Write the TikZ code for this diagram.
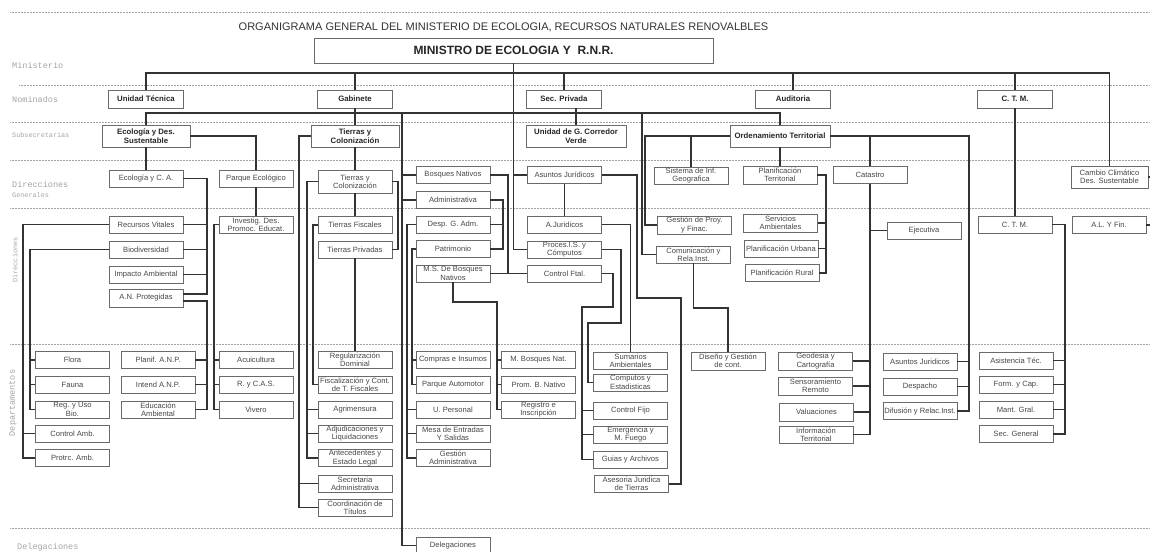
\documentclass[tikz,border=0pt]{standalone}
\usepackage{fontspec}
\setmainfont{Liberation Sans}
\newfontfamily\labelfont{Liberation Mono}
\usetikzlibrary{calc}

\definecolor{linecol}{HTML}{333333}
\definecolor{boxcol}{HTML}{6A6A6A}
\definecolor{txtcol}{HTML}{474747}
\definecolor{lblcol}{HTML}{A3A3A3}

\tikzset{
  unit/.style={draw=boxcol, line width=0.7pt, fill=white, minimum width=74pt, minimum height=17pt,
    inner sep=0.5pt, align=center, text=txtcol, font=\fontsize{7.6}{8.3}\selectfont},
  head/.style={unit, text=black!85, font=\fontsize{7.8}{9}\selectfont\bfseries},
  link/.style={draw=linecol, line width=1.1pt},
  sep/.style={draw=lblcol, densely dotted, line width=0.5pt},
  lvl/.style={text=lblcol, anchor=west, inner sep=0pt, font=\labelfont\fontsize{8.5}{9}\selectfont},
  lvlsmall/.style={lvl, font=\labelfont\fontsize{6.8}{7}\selectfont},
}

\begin{document}
\begin{tikzpicture}[x=1pt, y=-1pt]
  \useasboundingbox (0,0) rectangle (1150,551);

  % level separators
  \foreach \yy in {12,122,160,208,344,528}
    \draw[sep] (10,\yy) -- (1150,\yy);
  \draw[sep] (19,85) -- (1150,85);

  % level labels
  \node[lvl] (lmin) at (12,65) {Ministerio};
  \node[lvl] (lnom) at (12,99) {Nominados};
  \node[lvlsmall] (lsub) at (12,135) {Subsecretarias};
  \node[lvl] (ldg) at (12,184) {Direcciones};
  \node[lvlsmall] (ldg2) at (12,195) {Generales};
  \node[lvlsmall, anchor=center, rotate=90] (ldir) at (15,260) {Direcciones};
  \node[lvl, anchor=center, rotate=90] (ldep) at (13,403) {Departamentos};
  \node[lvl] (ldel) at (17,547) {Delegaciones};

  % title and minister
  \node[text=linecol, font=\fontsize{11}{13}\selectfont] (title) at (503.5,27)
    {ORGANIGRAMA GENERAL DEL MINISTERIO DE ECOLOGIA, RECURSOS NATURALES RENOVALBLES};
  \node[unit, minimum width=399pt, minimum height=25pt, text=black!85,
    font=\fontsize{12}{14}\selectfont\bfseries] (min) at (513.5,50.5) {MINISTRO DE ECOLOGIA Y\ \ R.N.R.};

  % nominados
  \node[head, minimum width=75pt, minimum height=18pt] (ut) at (146,99) {Unidad Técnica};
  \node[head, minimum width=75pt, minimum height=18pt] (gab) at (355,99) {Gabinete};
  \node[head, minimum width=75pt, minimum height=18pt] (secp) at (564,99) {Sec. Privada};
  \node[head, minimum width=75pt, minimum height=18pt] (aud) at (793,99) {Auditoria};
  \node[head, minimum width=75pt, minimum height=18pt] (ctmn) at (1015,99) {C. T. M.};

  % subsecretarias
  \node[head, minimum width=88pt, minimum height=22pt] (eds) at (146,136) {Ecología y Des.\\Sustentable};
  \node[head, minimum width=88pt, minimum height=22pt] (tyc) at (355,136) {Tierras y\\Colonización};
  \node[head, minimum width=100pt, minimum height=22pt] (ugcv) at (576,136) {Unidad de G. Corredor\\Verde};
  \node[head, minimum width=100pt, minimum height=22pt] (ot) at (780,136) {Ordenamiento Territorial};

  % direcciones generales
  \node[unit] (ecoca) at (146,178.5) {Ecología y C. A.};
  \node[unit] (parque) at (256,178.5) {Parque Ecológico};
  \node[unit, minimum height=23pt] (tycdg) at (355,181.5) {Tierras y\\Colonización};
  \node[unit] (bosq) at (453,175) {Bosques Nativos};
  \node[unit] (asj) at (564.5,175) {Asuntos Jurídicos};
  \node[unit] (sig) at (691,175.5) {Sistema de Inf.\\Geografica};
  \node[unit, minimum height=18pt] (pt) at (780,175) {Planificación\\Territorial};
  \node[unit] (cat) at (870,175) {Catastro};
  \node[unit, minimum width=77pt, minimum height=22pt] (ccds) at (1109.5,177) {Cambio Climático\\Des. Sustentable};

  % direcciones
  \node[unit] (admin) at (453,200) {Administrativa};
  \node[unit] (rv) at (146,224.5) {Recursos Vitales};
  \node[unit] (inv) at (256,224.5) {Investig. Des.\\Promoc. Educat.};
  \node[unit] (tf) at (355,225) {Tierras Fiscales};
  \node[unit] (desp) at (453,224.5) {Desp. G. Adm.};
  \node[unit] (ajur) at (564.5,224.5) {A.Juridicos};
  \node[unit, minimum height=18pt] (gpf) at (694.5,225) {Gestión de Proy.\\y Finac.};
  \node[unit, minimum height=18pt] (sa) at (780.5,223) {Servicios\\Ambientales};
  \node[unit] (ejec) at (924,230.5) {Ejecutiva};
  \node[unit] (ctm) at (1015,224.5) {C. T. M.};
  \node[unit] (alf) at (1109,225) {A.L. Y Fin.};
  \node[unit] (bio) at (146,249.5) {Biodiversidad};
  \node[unit] (tp) at (355,249.5) {Tierras Privadas};
  \node[unit] (patr) at (453,249) {Patrimonio};
  \node[unit] (proc) at (564.5,249.5) {Proces.I.S. y\\Cómputos};
  \node[unit] (com) at (693.5,254.5) {Comunicación y\\Rela.Inst.};
  \node[unit] (pu) at (781,248.5) {Planificación Urbana};
  \node[unit] (ia) at (146,274.5) {Impacto Ambiental};
  \node[unit] (msb) at (453,273.5) {M.S. De Bosques\\Nativos};
  \node[unit] (cftal) at (564.5,273.5) {Control Ftal.};
  \node[unit] (pr) at (782,273) {Planificación Rural};
  \node[unit, minimum height=18pt] (anp) at (146,298) {A.N. Protegidas};

  % departamentos
  \node[unit] (flora) at (72.5,360) {Flora};
  \node[unit] (fauna) at (72.5,384.5) {Fauna};
  \node[unit] (reg) at (72.5,409.5) {Reg. y Uso\\Bio.};
  \node[unit] (camb) at (72.5,433.5) {Control Amb.};
  \node[unit] (protrc) at (72.5,458) {Protrc. Amb.};
  \node[unit] (planif) at (158,360) {Planif. A.N.P.};
  \node[unit] (intend) at (158,384.5) {Intend A.N.P.};
  \node[unit] (educ) at (158,409.5) {Educación\\Ambiental};
  \node[unit] (acui) at (256,360) {Acuicultura};
  \node[unit] (rycas) at (256,384.5) {R. y C.A.S.};
  \node[unit] (vivero) at (256,409.5) {Vivero};
  \node[unit] (regd) at (355,360) {Regularización\\Dominial};
  \node[unit] (fisc) at (355,384.5) {Fiscalización y Cont.\\de T. Fiscales};
  \node[unit] (agri) at (355,409.5) {Agrimensura};
  \node[unit] (adju) at (355,433.5) {Adjudicaciones y\\Liquidaciones};
  \node[unit] (ante) at (355,458) {Antecedentes y\\Estado Legal};
  \node[unit] (secad) at (355,483.5) {Secretaria\\Administrativa};
  \node[unit] (coord) at (355,507.5) {Coordinación de\\Títulos};
  \node[unit] (compras) at (453,360) {Compras e Insumos};
  \node[unit] (pauto) at (453,384.5) {Parque Automotor};
  \node[unit] (upers) at (453,409.5) {U. Personal};
  \node[unit] (mesa) at (453,433.5) {Mesa de Entradas\\Y Salidas};
  \node[unit] (gadm) at (453,458) {Gestión\\Administrativa};
  \node[unit] (mbn) at (538.5,360) {M. Bosques Nat.};
  \node[unit] (prom) at (538.5,384.5) {Prom. B. Nativo};
  \node[unit] (regi) at (538.5,409.5) {Registro e\\Inscripción};
  \node[unit] (sum) at (630.5,360.5) {Sumarios\\Ambientales};
  \node[unit] (comp) at (630.5,382.5) {Computos y\\Estadisticas};
  \node[unit] (cfijo) at (630.5,410.5) {Control Fijo};
  \node[unit] (emer) at (630.5,434.5) {Emergencia y\\M. Fuego};
  \node[unit] (guias) at (630.5,459.5) {Guias y Archivos};
  \node[unit] (ases) at (631.5,484) {Asesoria Juridica\\de Tierras};
  \node[unit, minimum height=18pt] (diseno) at (728,361) {Diseño y Gestión\\de cont.};
  \node[unit, minimum height=18pt] (geo) at (815.5,361) {Geodesia y\\Cartografía};
  \node[unit, minimum height=18pt] (sens) at (815.5,386) {Sensoramiento\\Remoto};
  \node[unit, minimum height=18pt] (valu) at (816.5,412) {Valuaciones};
  \node[unit] (info) at (816,434.5) {Información\\Territorial};
  \node[unit] (asjd) at (920,361.5) {Asuntos Juridicos};
  \node[unit] (despa) at (920,386.5) {Despacho};
  \node[unit] (difu) at (920,411) {Difusión y Relac.Inst.};
  \node[unit] (asist) at (1016,360.5) {Asistencia Téc.};
  \node[unit] (form) at (1016,384.5) {Form. y Cap.};
  \node[unit] (mant) at (1016,409.5) {Mant. Gral.};
  \node[unit] (secg) at (1016,434) {Sec. General};

  % delegaciones
  \node[unit] (deleg) at (453,545.5) {Delegaciones};

  % bus coordinates
  \coordinate (mbus) at (0,73);
  \coordinate (sbus) at (0,113);
  \coordinate (delbus) at (402,0);
  \coordinate (combus) at (642,0);
  \coordinate (ecobus) at (207,0);
  \coordinate (rvbus) at (23,0);
  \coordinate (biobus) at (30,0);
  \coordinate (invbus) at (214,0);
  \coordinate (tycbus) at (299,0);
  \coordinate (dgbus) at (307,0);
  \coordinate (tfbus) at (313,0);
  \coordinate (dgright) at (398,0);
  \coordinate (adminbus) at (503,0);
  \coordinate (despbus) at (407,0);
  \coordinate (patrbus) at (412,0);
  \coordinate (bosqbus) at (508,0);
  \coordinate (msbturn) at (497,302);
  \coordinate (asjturn) at (637,298);
  \coordinate (asesbus) at (681,0);
  \coordinate (procturn) at (621,323);
  \coordinate (procbus) at (588,0);
  \coordinate (cftalturn) at (613,307);
  \coordinate (cftalbus) at (582,0);
  \coordinate (otleft) at (645,0);
  \coordinate (otright) at (969,0);
  \coordinate (ptbus) at (826,0);
  \coordinate (comturn) at (0,308);
  \coordinate (ctmbus) at (1065,0);
  \coordinate (rightend) at (1150,0);

  % ministro
  \draw[link] (ut.north) |- (mbus -| ccds.north) -- (ccds.north);
  \foreach \n in {gab,secp,aud,ctmn}
    \draw[link] (\n.north) -- (\n.north |- mbus);
  \draw[link] (min.south) |- (proc.west);
  \draw[link] (min.south |- asj.west) -- (asj.west);

  % subsecretarias
  \draw[link] (eds.north) |- (sbus -| ot.north) -- (ot.north);
  \draw[link] (gab.south) -- (tyc.north);
  \draw[link] (ugcv.north) -- (ugcv.north |- secp.south);
  \draw[link] (delbus |- sbus) |- (deleg.west);
  \draw[link] (delbus |- bosq.west) -- (bosq.west);
  \draw[link] (delbus |- admin.west) -- (admin.west);
  \draw[link] (combus |- sbus) |- (com.west);

  % ecologia y des. sustentable
  \draw[link] (eds.south) -- (ecoca.north);
  \draw[link] (eds.east) -| (parque.north);
  \draw[link] (ecoca.east) -| ($(ecobus |- anp.east)+(0,-4)$) -- ($(anp.east)+(0,-4)$);
  \foreach \n in {rv,bio,ia}
    \draw[link] (\n.east) -- (ecobus |- \n.east);
  \draw[link] ($(anp.east)+(0,3)$) -| (ecobus |- educ.east) -- (educ.east);
  \foreach \n in {planif,intend}
    \draw[link] (\n.east) -- (ecobus |- \n.east);
  \draw[link] (rv.west) -| (rvbus |- protrc.west) -- (protrc.west);
  \draw[link] (camb.west) -- (rvbus |- camb.west);
  \draw[link] (bio.west) -| (biobus |- reg.west) -- (reg.west);
  \foreach \n in {flora,fauna}
    \draw[link] (\n.west) -- (biobus |- \n.west);
  \draw[link] (parque.south) -- (inv.north);
  \draw[link] (inv.west) -| (invbus |- vivero.west) -- (vivero.west);
  \foreach \n in {acui,rycas}
    \draw[link] (\n.west) -- (invbus |- \n.west);

  % tierras y colonizacion
  \draw[link] (tyc.west) -| (tycbus |- coord.west) -- (coord.west);
  \draw[link] (secad.west) -- (tycbus |- secad.west);
  \draw[link] (tyc.south) -- (tycdg.north);
  \draw[link] (tycdg.west) -| (dgbus |- ante.west) -- (ante.west);
  \foreach \n in {agri,adju}
    \draw[link] (\n.west) -- (dgbus |- \n.west);
  \draw[link] (tycdg.south) -- (tf.north);
  \draw[link] (tycdg.east) -| (dgright |- tp.east) -- (tp.east);
  \draw[link] (tf.west) -| (tfbus |- fisc.west) -- (fisc.west);
  \draw[link] (tp.south) -- (regd.north);

  % bosques nativos y administrativa
  \draw[link] (admin.east) -| (adminbus |- patr.east) -- (patr.east);
  \draw[link] (desp.east) -- (adminbus |- desp.east);
  \draw[link] (desp.west) -| (despbus |- gadm.west) -- (gadm.west);
  \foreach \n in {upers,mesa}
    \draw[link] (\n.west) -- (despbus |- \n.west);
  \draw[link] (patr.west) -| (patrbus |- pauto.west) -- (pauto.west);
  \draw[link] (compras.west) -- (patrbus |- compras.west);
  \draw[link] (bosq.east) -| (bosqbus |- cftal.west);
  \draw[link] (msb.east) -- (cftal.west);
  \draw[link] (msb.south) |- (msbturn) |- (regi.west);
  \foreach \n in {mbn,prom}
    \draw[link] (\n.west) -- (msbturn |- \n.west);

  % asuntos juridicos
  \draw[link] (asj.south) -- (ajur.north);
  \draw[link] (asj.east) -| (asjturn) -| (asesbus |- ases.east) -- (ases.east);
  \draw[link] (ajur.east) -| (sum.north);
  \draw[link] (proc.east) -| (procturn) -| (procbus |- comp.west) -- (comp.west);
  \draw[link] (cftal.east) -| (cftalturn) -| (cftalbus |- guias.west) -- (guias.west);
  \foreach \n in {cfijo,emer}
    \draw[link] (\n.west) -- (cftalbus |- \n.west);

  % ordenamiento territorial
  \draw[link] (ot.west) -| (otleft |- gpf.west) -- (gpf.west);
  \draw[link] (sig.north) -- (sig.north |- ot.west);
  \draw[link] (ot.south) -- (pt.north);
  \draw[link] (ot.east) -| (otright |- difu.east) -- (difu.east);
  \foreach \n in {asjd,despa}
    \draw[link] (\n.east) -- (otright |- \n.east);
  \draw[link] (cat.north) -- (cat.north |- ot.east);
  \draw[link] (cat.south) |- (info.east);
  \draw[link] (ejec.west) -- (cat.south |- ejec.west);
  \foreach \n in {geo,sens,valu}
    \draw[link] (\n.east) -- (cat.south |- \n.east);
  \draw[link] (pt.east) -| (ptbus |- pr.east) -- (pr.east);
  \foreach \n in {sa,pu}
    \draw[link] (\n.east) -- (ptbus |- \n.east);
  \draw[link] (com.south) |- (comturn -| diseno.north) -- (diseno.north);

  % c.t.m.
  \draw[link] (ctmn.south) -- (ctm.north);
  \draw[link] (ctm.east) -| (ctmbus |- secg.east) -- (secg.east);
  \foreach \n in {asist,form,mant}
    \draw[link] (\n.east) -- (ctmbus |- \n.east);
  \draw[link] (ccds.east) -- (rightend |- ccds.east);
  \draw[link] (alf.east) -- (rightend |- alf.east);
\end{tikzpicture}
\end{document}
